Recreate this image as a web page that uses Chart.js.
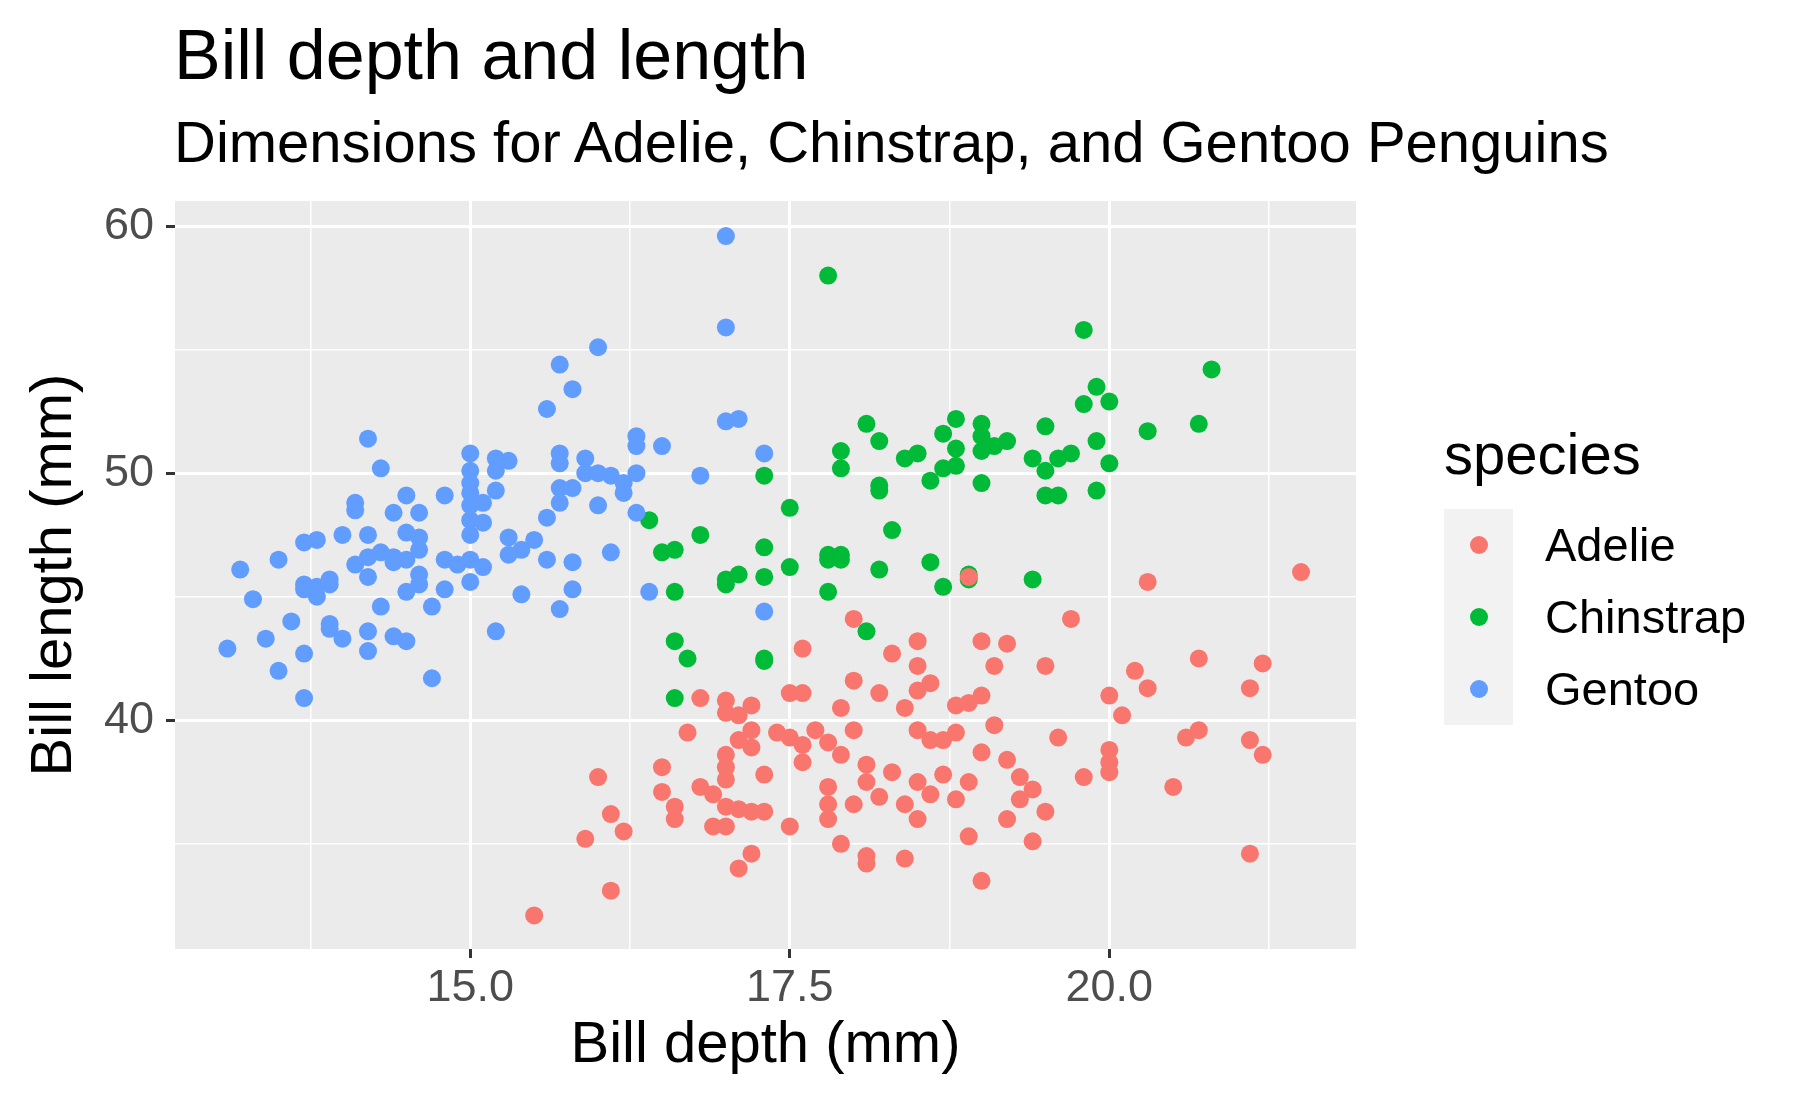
<!DOCTYPE html>
<html>
<head>
<meta charset="utf-8">
<script src="https://cdn.jsdelivr.net/npm/chart.js@4"></script>
<style>
  body { margin: 0; background: #fff; font-family: "Liberation Sans", Arial, sans-serif; }
  #wrap { position: relative; width: 1800px; height: 1112px; }
  canvas { position: absolute; left: 0; top: 0; }
  .title { position: absolute; left: 174px; top: 14px; font-size: 70px; line-height: 82px; color: #000; }
  .subtitle { position: absolute; left: 174px; top: 108px; font-size: 58px; line-height: 68px; color: #000; }
  #legend { position: absolute; left: 1444px; top: 420px; }
  #legend .lt { font-size: 58px; line-height: 68px; margin-bottom: 21px; }
  #legend .box { background: #F2F2F2; width: 69px; padding: 0; }
  #legend .row { position: relative; height: 72px; }
  #legend .dot { position: absolute; left: 26px; top: 27px; width: 18px; height: 18px; border-radius: 50%; }
  #legend .lab { position: absolute; left: 101px; top: 8px; font-size: 47px; line-height: 56px; white-space: nowrap; }
</style>
</head>
<body>
<div id="wrap">
  <canvas id="c" width="1800" height="1112"></canvas>
  <div class="title">Bill depth and length</div>
  <div class="subtitle">Dimensions for Adelie, Chinstrap, and Gentoo Penguins</div>
  <div id="legend"></div>
</div>
<script>
// [bill depth, bill length]
const adelie = [
  [15.5,32.1],[15.9,35.2],[16.0,37.7],[16.1,36.2],[16.1,33.1],[16.2,35.5],[16.5,38.1],[16.5,37.1],
  [16.6,36.5],[16.6,36.0],[16.7,39.5],[16.8,40.9],[16.8,37.3],[16.9,37.0],[16.9,35.7],[17.0,40.8],
  [17.0,40.3],[17.0,38.6],[17.0,38.1],[17.0,37.6],[17.0,36.5],[17.0,35.7],[17.1,40.2],[17.1,39.2],
  [17.1,36.4],[17.1,34.0],[17.2,40.6],[17.2,39.6],[17.2,38.9],[17.2,36.3],[17.2,34.6],[17.3,37.8],
  [17.3,36.3],[17.4,39.5],[17.5,41.1],[17.5,39.3],[17.5,35.7],[17.6,42.9],[17.6,41.1],[17.6,39.0],
  [17.6,38.3],[17.7,39.6],[17.8,37.3],[17.8,36.6],[17.8,36.0],[17.8,39.1],[17.9,40.5],[17.9,38.6],
  [17.9,35.0],[18.0,44.1],[18.0,41.6],[18.0,36.6],[18.0,39.6],[18.1,38.2],[18.1,37.5],[18.1,34.5],
  [18.1,34.2],[18.2,41.1],[18.2,36.9],[18.3,42.7],[18.3,37.9],[18.4,40.5],[18.4,36.6],[18.4,34.4],
  [18.5,43.2],[18.5,42.2],[18.5,41.2],[18.5,39.6],[18.5,37.5],[18.5,36.0],[18.6,41.5],[18.6,39.2],
  [18.6,37.0],[18.7,39.2],[18.7,37.8],[18.8,40.6],[18.8,39.5],[18.8,36.8],[18.9,40.7],[18.9,37.5],
  [18.9,35.3],[18.9,45.8],[19.0,43.2],[19.0,41.0],[19.0,38.7],[19.0,33.5],[19.1,42.2],[19.1,39.8],
  [19.2,43.1],[19.2,38.4],[19.2,36.0],[19.3,37.7],[19.3,36.8],[19.4,37.2],[19.4,35.1],[19.5,42.2],
  [19.5,36.3],[19.6,39.3],[19.7,44.1],[19.8,37.7],[20.0,41.0],[20.0,38.8],[20.0,38.3],[20.0,37.9],
  [20.1,40.2],[20.2,42.0],[20.3,45.6],[20.3,41.3],[20.5,37.3],[20.6,39.3],[20.7,42.5],[20.7,39.6],
  [21.1,41.3],[21.1,39.2],[21.1,34.6],[21.2,42.3],[21.2,38.6],[21.5,46.0]
];
const gentoo = [
  [13.1,42.9],[13.2,46.1],[13.3,44.9],[13.4,43.3],[13.5,46.5],[13.5,42.0],[13.6,44.0],[13.7,47.2],
  [13.7,45.5],[13.7,45.3],[13.7,42.7],[13.7,40.9],[13.8,47.3],[13.8,45.0],[13.8,45.4],[13.9,45.5],
  [13.9,45.7],[13.9,43.9],[13.9,43.7],[14.0,47.5],[14.0,43.3],[14.1,48.8],[14.1,48.5],[14.1,46.3],
  [14.2,51.4],[14.2,47.5],[14.2,46.6],[14.2,45.8],[14.2,43.6],[14.2,42.8],[14.3,50.2],[14.3,46.8],
  [14.3,44.6],[14.4,48.4],[14.4,46.6],[14.4,46.4],[14.4,43.4],[14.5,49.1],[14.5,47.6],[14.5,46.5],
  [14.5,45.2],[14.5,43.2],[14.6,48.4],[14.6,47.4],[14.6,46.9],[14.6,45.9],[14.6,45.5],[14.7,44.6],
  [14.7,41.7],[14.8,49.1],[14.8,46.5],[14.8,45.3],[14.9,46.3],[15.0,50.8],[15.0,50.1],[15.0,49.6],
  [15.0,49.2],[15.0,48.7],[15.0,48.1],[15.0,47.5],[15.0,46.5],[15.0,45.6],[15.1,48.8],[15.1,48.0],
  [15.1,46.2],[15.2,50.6],[15.2,50.1],[15.2,49.3],[15.2,43.6],[15.3,50.5],[15.3,47.4],[15.3,46.7],
  [15.4,46.9],[15.4,45.1],[15.5,47.3],[15.6,52.6],[15.6,48.2],[15.6,46.5],[15.7,54.4],[15.7,50.8],
  [15.7,50.4],[15.7,49.4],[15.7,48.8],[15.7,44.5],[15.8,53.4],[15.8,49.4],[15.8,46.4],[15.8,45.3],
  [15.9,50.6],[15.9,50.0],[16.0,55.1],[16.0,50.0],[16.0,48.7],[16.1,49.9],[16.1,46.8],[16.2,49.6],
  [16.2,49.2],[16.3,51.5],[16.3,51.1],[16.3,50.0],[16.3,48.4],[16.4,45.2],[16.5,51.1],[16.8,49.9],
  [17.0,59.6],[17.0,55.9],[17.0,52.1],[17.1,52.2],[17.3,50.8],[17.3,44.4]
];
const chinstrap = [
  [16.4,48.1],[16.5,46.8],[16.6,46.9],[16.6,45.2],[16.6,43.2],[16.6,40.9],[16.7,42.5],[16.8,47.5],
  [17.0,45.7],[17.0,45.5],[17.1,45.9],[17.3,49.9],[17.3,47.0],[17.3,45.8],[17.3,42.5],[17.3,42.4],
  [17.5,48.6],[17.5,46.2],[17.8,58.0],[17.8,46.7],[17.8,46.5],[17.8,45.2],[17.9,50.9],[17.9,50.2],
  [17.9,46.7],[17.9,46.5],[18.1,52.0],[18.1,43.6],[18.2,51.3],[18.2,49.5],[18.2,49.3],[18.2,46.1],
  [18.3,47.7],[18.4,50.6],[18.5,50.8],[18.6,49.7],[18.6,46.4],[18.7,50.2],[18.7,51.6],[18.7,45.4],
  [18.8,52.2],[18.8,51.0],[18.8,50.3],[18.9,45.9],[18.9,45.7],[19.0,52.0],[19.0,51.5],[19.0,50.9],
  [19.0,49.6],[19.1,51.1],[19.2,51.3],[19.4,50.6],[19.4,45.7],[19.5,51.9],[19.5,50.1],[19.5,49.1],
  [19.6,50.6],[19.6,49.1],[19.7,50.8],[19.8,55.8],[19.8,52.8],[19.9,53.5],[19.9,51.3],[19.9,49.3],
  [20.0,52.9],[20.0,50.4],[20.3,51.7],[20.7,52.0],[20.8,54.2]
];
const speciesNames = ["Adelie", "Chinstrap", "Gentoo"];
const speciesColors = ["#F8766D", "#00BA38", "#619CFF"];
const xMajorTicks = [15, 17.5, 20];
const yMajorTicks = [40, 50, 60];

const toPts = (arr) => arr.map((p) => ({ x: p[0], y: p[1] }));

const panelBg = {
  id: "panelBg",
  beforeDraw(chart) {
    const a = chart.chartArea, ctx = chart.ctx;
    ctx.save();
    ctx.fillStyle = "#EBEBEB";
    ctx.fillRect(a.left, a.top, a.right - a.left, a.bottom - a.top);
    ctx.restore();
  },
};

const isMajor = (list, v) => list.some((m) => Math.abs(m - v) < 1e-6);

function ds(label, data, color) {
  return { label, data: toPts(data), backgroundColor: color, borderWidth: 0, pointRadius: 9, pointHoverRadius: 9 };
}

new Chart(document.getElementById("c"), {
  type: "scatter",
  data: {
    datasets: [
      ds("Adelie", adelie, speciesColors[0]),
      ds("Gentoo", gentoo, speciesColors[2]),
      ds("Chinstrap", chinstrap, speciesColors[1]),
    ],
  },
  options: {
    responsive: false,
    animation: false,
    layout: { padding: { top: 201, right: 444, left: 20, bottom: 27 } },
    plugins: { legend: { display: false }, tooltip: { enabled: false } },
    scales: {
      x: {
        min: 12.69, max: 21.93,
        afterFit: (s) => { s.height = 136; },
        border: { display: false },
        ticks: {
          stepSize: 1.25, includeBounds: false, autoSkip: false, maxRotation: 0,
          color: "#4D4D4D", font: { size: 45, family: "Liberation Sans" }, padding: 4,
          callback: (v) => (isMajor(xMajorTicks, v) ? v.toFixed(1) : ""),
        },
        grid: {
          color: "#FFFFFF",
          lineWidth: (c) => (isMajor(xMajorTicks, c.tick.value) ? 3 : 1.5),
          tickColor: (c) => (isMajor(xMajorTicks, c.tick.value) ? "#333333" : "rgba(0,0,0,0)"),
          tickLength: 9, tickWidth: 3,
        },
        title: { display: true, text: "Bill depth (mm)", color: "#000", font: { size: 58, family: "Liberation Sans" }, padding: { top: 4, bottom: 4 } },
      },
      y: {
        min: 30.74, max: 61.02,
        afterFit: (s) => { s.width = 155; },
        border: { display: false },
        ticks: {
          stepSize: 5, includeBounds: false, autoSkip: false,
          color: "#4D4D4D", font: { size: 45, family: "Liberation Sans" }, padding: 12,
          callback: (v) => (isMajor(yMajorTicks, v) ? String(v) : ""),
        },
        grid: {
          color: "#FFFFFF",
          lineWidth: (c) => (isMajor(yMajorTicks, c.tick.value) ? 3 : 1.5),
          tickColor: (c) => (isMajor(yMajorTicks, c.tick.value) ? "#333333" : "rgba(0,0,0,0)"),
          tickLength: 9, tickWidth: 3,
        },
        title: { display: true, text: "Bill length (mm)", color: "#000", font: { size: 58, family: "Liberation Sans" }, padding: { top: 0, bottom: 4 } },
      },
    },
  },
  plugins: [panelBg],
});

// legend
const lg = document.getElementById("legend");
let html = '<div class="lt">species</div><div class="box">';
speciesNames.forEach((n, i) => {
  html += '<div class="row"><span class="dot" style="background:' + speciesColors[i] + '"></span><span class="lab">' + n + "</span></div>";
});
lg.innerHTML = html + "</div>";
</script>
</body>
</html>
